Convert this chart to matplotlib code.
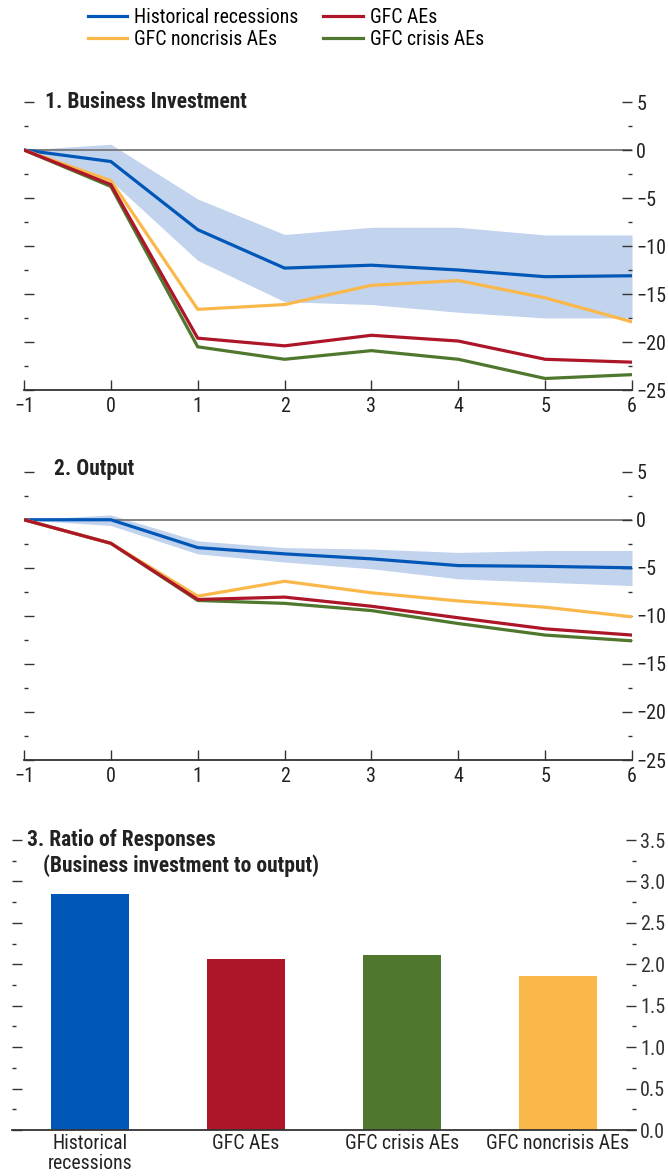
import numpy as np
import matplotlib
matplotlib.use("Agg")
import matplotlib.pyplot as plt
from matplotlib.ticker import MultipleLocator, FormatStrFormatter

plt.rcParams['font.family'] = ['Roboto Condensed', 'Liberation Sans Narrow', 'Liberation Sans', 'DejaVu Sans']
plt.rcParams['font.size'] = 13

# data
horizon = [-1, 0, 1, 2, 3, 4, 5, 6]

inv_hist = [0, -1.2, -8.3, -12.3, -12.0, -12.5, -13.2, -13.1]
inv_hist_hi = [0, 0.6, -5.1, -8.8, -8.05, -8.05, -8.85, -8.85]
inv_hist_lo = [0, -3.2, -11.5, -15.8, -16.1, -16.9, -17.5, -17.5]
inv_gfc = [0, -3.6, -19.6, -20.4, -19.3, -19.9, -21.8, -22.1]
inv_noncrisis = [0, -3.2, -16.6, -16.1, -14.1, -13.6, -15.4, -17.9]
inv_crisis = [0, -3.8, -20.5, -21.8, -20.9, -21.8, -23.8, -23.4]

out_hist = [0, 0, -2.9, -3.55, -4.07, -4.77, -4.85, -5.0]
out_hist_hi = [0, 0.5, -2.2, -2.9, -3.05, -3.4, -3.2, -3.2]
out_hist_lo = [0, -0.6, -3.55, -4.4, -5.1, -6.15, -6.5, -6.85]
out_gfc = [0, -2.45, -8.3, -8.05, -9.0, -10.2, -11.35, -12.0]
out_noncrisis = [0, -2.45, -7.95, -6.4, -7.6, -8.45, -9.1, -10.1]
out_crisis = [0, -2.45, -8.4, -8.7, -9.45, -10.8, -12.0, -12.6]

ratio_labels = ['Historical\nrecessions', 'GFC AEs', 'GFC crisis AEs', 'GFC noncrisis AEs']
ratio_values = [2.85, 2.06, 2.11, 1.86]

blue = '#0057B8'
red = '#AD1529'
green = '#4F772D'
yellow = '#FBB84A'
band = '#C2D3EE'

W, H = 668, 1176
fig = plt.figure(figsize=(W / 100, H / 100), dpi=100)

TICK_FS = 14.5
TITLE_FS = 15.5


def px(x0, y0, x1, y1):
    return [x0 / W, 1 - y1 / H, (x1 - x0) / W, (y1 - y0) / H]


def line_panel(rect, hist, hi, lo, gfc, noncrisis, crisis):
    ax = fig.add_axes(rect)
    ax.fill_between(horizon, lo, hi, color=band, lw=0)
    ax.axhline(0, color='#777777', lw=1.3, zorder=1)
    h1, = ax.plot(horizon, hist, color=blue, lw=2.3, label='Historical recessions')
    h4, = ax.plot(horizon, crisis, color=green, lw=2.3, label='GFC crisis AEs')
    h3, = ax.plot(horizon, noncrisis, color=yellow, lw=2.3, label='GFC noncrisis AEs')
    h2, = ax.plot(horizon, gfc, color=red, lw=2.3, label='GFC AEs')
    ax.set_xlim(-1, 6)
    ax.set_ylim(-25, 5)
    ax.set_xticks(horizon)
    ax.yaxis.set_major_locator(MultipleLocator(5))
    ax.yaxis.set_minor_locator(MultipleLocator(2.5))
    for s in ['top', 'left', 'right']:
        ax.spines[s].set_visible(False)
    ax.spines['bottom'].set_color('#333333')
    ax.spines['bottom'].set_linewidth(1.3)
    ax.tick_params(axis='x', direction='in', length=7, width=1, pad=5, colors='#333333', labelsize=TICK_FS)
    ax.tick_params(axis='y', which='both', direction='in', left=True, right=True,
                   labelleft=False, labelright=True, colors='#333333', labelsize=TICK_FS, pad=3)
    ax.tick_params(axis='y', which='major', length=7, width=1)
    ax.tick_params(axis='y', which='minor', length=3, width=1)
    for lab in ax.get_xticklabels() + ax.get_yticklabels():
        lab.set_color('#222222')
    return ax, [h1, h3, h2, h4]


ax1, handles = line_panel(px(24, 102, 632, 390), inv_hist, inv_hist_hi, inv_hist_lo,
                          inv_gfc, inv_noncrisis, inv_crisis)
fig.text(45 / W, 1 - 102 / H, '1. Business Investment', fontsize=TITLE_FS, fontweight='bold',
         va='center', color='#222222')

ax2, _ = line_panel(px(24, 471.7, 632, 760), out_hist, out_hist_hi, out_hist_lo,
                    out_gfc, out_noncrisis, out_crisis)
fig.text(54 / W, 1 - 469 / H, '2. Output', fontsize=TITLE_FS, fontweight='bold',
         va='center', color='#222222')

# bars
ax3 = fig.add_axes(px(12, 840, 636, 1130))
xb = np.arange(len(ratio_values))
ax3.bar(xb, ratio_values, width=0.5, color=[blue, red, green, yellow])
ax3.set_xlim(-0.5, 3.5)
ax3.set_ylim(0, 3.5)
ax3.set_xticks(xb)
ax3.set_xticklabels(ratio_labels)
ax3.yaxis.set_major_locator(MultipleLocator(0.5))
ax3.yaxis.set_minor_locator(MultipleLocator(0.25))
ax3.yaxis.set_major_formatter(FormatStrFormatter('%.1f'))
for s in ['top', 'left', 'right']:
    ax3.spines[s].set_visible(False)
ax3.spines['bottom'].set_color('#333333')
ax3.spines['bottom'].set_linewidth(1.3)
ax3.tick_params(axis='x', length=0, pad=3, labelsize=14.2, colors='#222222')
ax3.tick_params(axis='y', which='both', direction='in', left=True, right=True,
                labelleft=False, labelright=True, colors='#333333', labelsize=TICK_FS, pad=3)
ax3.tick_params(axis='y', which='major', length=7, width=1)
ax3.tick_params(axis='y', which='minor', length=3, width=1)
for lab in ax3.get_xticklabels():
    lab.set_linespacing(1.05)
fig.text(27 / W, 1 - 840 / H, '3. Ratio of Responses', fontsize=TITLE_FS, fontweight='bold',
         va='center', color='#222222')
fig.text(43 / W, 1 - 866 / H, '(Business investment to output)', fontsize=TITLE_FS,
         fontweight='bold', va='center', color='#222222')

fig.legend(handles=handles, labels=[h.get_label() for h in handles], ncol=2,
           loc='upper left', bbox_to_anchor=(88 / W, 1 - 8 / H), frameon=False,
           fontsize=14.2, handlelength=2.0, handletextpad=0.35, columnspacing=1.25,
           labelspacing=0.15, borderaxespad=0, borderpad=0)

fig.savefig('out.png', dpi=100)
